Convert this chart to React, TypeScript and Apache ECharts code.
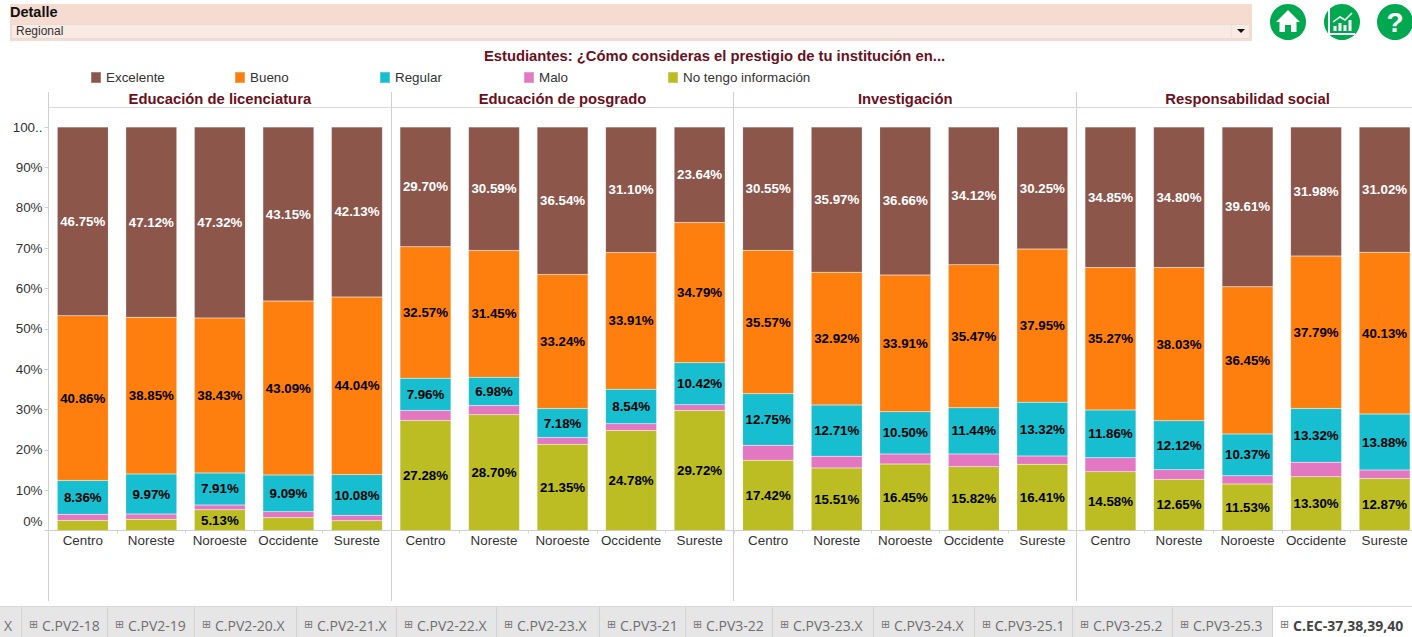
import React, { useEffect, useRef } from "react";
import * as echarts from "echarts";

const regions = ["Centro", "Noreste", "Noroeste", "Occidente", "Sureste"];
const panels = ["Educación de licenciatura", "Educación de posgrado", "Investigación", "Responsabilidad social"];
const noInfo = [
  [2.5, 2.8, 5.13, 3.2, 2.4],
  [27.28, 28.7, 21.35, 24.78, 29.72],
  [17.42, 15.51, 16.45, 15.82, 16.41],
  [14.58, 12.65, 11.53, 13.3, 12.87],
];
const malo = [
  [1.53, 1.26, 1.21, 1.47, 1.35],
  [2.49, 2.28, 1.69, 1.67, 1.43],
  [3.71, 2.89, 2.48, 3.15, 2.07],
  [3.44, 2.4, 2.04, 3.61, 2.1],
];
const regular = [
  [8.36, 9.97, 7.91, 9.09, 10.08],
  [7.96, 6.98, 7.18, 8.54, 10.42],
  [12.75, 12.71, 10.5, 11.44, 13.32],
  [11.86, 12.12, 10.37, 13.32, 13.88],
];
const bueno = [
  [40.86, 38.85, 38.43, 43.09, 44.04],
  [32.57, 31.45, 33.24, 33.91, 34.79],
  [35.57, 32.92, 33.91, 35.47, 37.95],
  [35.27, 38.03, 36.45, 37.79, 40.13],
];
const excelente = [
  [46.75, 47.12, 47.32, 43.15, 42.13],
  [29.7, 30.59, 36.54, 31.1, 23.64],
  [30.55, 35.97, 36.66, 34.12, 30.25],
  [34.85, 34.8, 39.61, 31.98, 31.02],
];
const tabNames = ["C.PV2-18", "C.PV2-19", "C.PV2-20.X", "C.PV2-21.X", "C.PV2-22.X", "C.PV2-23.X", "C.PV3-21", "C.PV3-22", "C.PV3-23.X", "C.PV3-24.X", "C.PV3-25.1", "C.PV3-25.2", "C.PV3-25.3", "C.EC-37,38,39,40"];

const tabEdges = [22, 108, 195, 297, 397, 497, 600, 686, 773, 874, 975, 1073, 1173, 1273];
const FONT = "Liberation Sans";
const DARK = "#6b1020";
const GREEN = "#00a94f";
const panelLeft = [48.5, 391.2, 733.9, 1076.2];
const panelWidth = 342.7;

const stackDefs = [
  { name: "No tengo información", data: noInfo, color: "#bcbd22", text: "#000", labelled: true },
  { name: "Malo", data: malo, color: "#e377c2", text: "#000", labelled: false },
  { name: "Regular", data: regular, color: "#17becf", text: "#000", labelled: true },
  { name: "Bueno", data: bueno, color: "#ff7f0e", text: "#000", labelled: true },
  { name: "Excelente", data: excelente, color: "#8c564b", text: "#fff", labelled: true },
];
const legendDefs = [
  { name: "Excelente", left: 90 },
  { name: "Bueno", left: 234 },
  { name: "Regular", left: 379 },
  { name: "Malo", left: 523 },
  { name: "No tengo información", left: 667 },
];

function chartGraphics(): any[] {
  const g: any[] = [];
  // filter band
  g.push({ type: "rect", shape: { x: 10, y: 4, width: 1242, height: 37 }, style: { fill: "#f6dbd0" } });
  g.push({ type: "rect", shape: { x: 11.5, y: 24.5, width: 1238, height: 14, r: 1 }, style: { fill: "#f9ebe4", stroke: "#e6dcd6", lineWidth: 1 } });
  g.push({ type: "line", shape: { x1: 1231.5, y1: 25, x2: 1231.5, y2: 38 }, style: { stroke: "#ece2dc", lineWidth: 1 } });
  g.push({ type: "polygon", shape: { points: [[1237, 29], [1245, 29], [1241, 33]] }, style: { fill: "#111" } });
  g.push({ type: "text", x: 10, y: 4, style: { text: "Detalle", font: `bold 14.5px "${FONT}"`, fill: "#111" } });
  g.push({ type: "text", x: 16, y: 25, style: { text: "Regional", font: `12px "${FONT}"`, fill: "#333" } });

  // round buttons
  [1288, 1342, 1395].forEach((cx) => {
    g.push({ type: "circle", shape: { cx, cy: 22, r: 18 }, style: { fill: GREEN } });
  });
  g.push({ type: "polygon", shape: { points: [[1288, 10], [1300, 22], [1296.5, 22], [1296.5, 32], [1291, 32], [1291, 25], [1285, 25], [1285, 32], [1279.5, 32], [1279.5, 22], [1276, 22]] }, style: { fill: "#fff" } });
  g.push({ type: "polyline", shape: { points: [[1329, 9], [1329, 34], [1355, 34]] }, style: { stroke: "#fff", lineWidth: 2, fill: "none" } });
  g.push({ type: "polyline", shape: { points: [[1333, 22], [1340, 17], [1345, 20], [1352, 13]] }, style: { stroke: "#fff", lineWidth: 1.5, fill: "none" } });
  [[1335, 26], [1340, 23], [1345, 25], [1350, 20]].forEach(([x, y]) => {
    g.push({ type: "rect", shape: { x: x - 1.5, y, width: 3, height: 31 - y }, style: { fill: "#fff" } });
  });
  g.push({ type: "text", x: 1395, y: 22, style: { text: "?", font: `bold 28px "${FONT}"`, fill: "#fff", align: "center", verticalAlign: "middle" } });

  // panel frame
  panelLeft.forEach((x) => {
    g.push({ type: "line", shape: { x1: Math.floor(x) + 0.5, y1: 92, x2: Math.floor(x) + 0.5, y2: 601 }, style: { stroke: "#cfcfcf", lineWidth: 1 } });
  });
  g.push({ type: "line", shape: { x1: 48, y1: 107.5, x2: 1412, y2: 107.5 }, style: { stroke: "#d8d8d8", lineWidth: 1 } });

  // tab strip
  g.push({ type: "rect", shape: { x: 0, y: 607, width: 1412, height: 30 }, style: { fill: "#e6e6e6" } });
  g.push({ type: "line", shape: { x1: 0, y1: 606.5, x2: 1412, y2: 606.5 }, style: { stroke: "#d9d9d9", lineWidth: 1 } });
  g.push({ type: "rect", shape: { x: 1273, y: 607, width: 139, height: 30 }, style: { fill: "#fff" } });
  g.push({ type: "text", x: 4, y: 625, style: { text: "X", font: '14px "Open Sans"', fill: "#6e6e6e", verticalAlign: "middle" } });
  tabNames.forEach((name, i) => {
    const x = tabEdges[i];
    const active = i === tabNames.length - 1;
    g.push({ type: "line", shape: { x1: x - 0.5, y1: 607, x2: x - 0.5, y2: 637 }, style: { stroke: "#d2d2d2", lineWidth: 1 } });
    g.push({ type: "text", x: x + 7, y: 624.5, style: { text: "⊞", font: '11px "DejaVu Sans"', fill: "#777", verticalAlign: "middle" } });
    g.push({ type: "text", x: x + 20, y: 625, style: { text: name, font: `${active ? "bold " : ""}14px "Open Sans"`, fill: active ? "#444" : "#6e6e6e", verticalAlign: "middle" } });
  });
  return g;
}

function buildOption(): any {
  const grid = panelLeft.map((left) => ({ left, width: panelWidth, top: 127, height: 403.5, containLabel: false, outerBoundsMode: "none" }));
  const xAxis = panelLeft.map((_, i) => ({
    type: "category",
    gridIndex: i,
    data: regions,
    axisLine: { lineStyle: { color: "#cfcfcf" } },
    axisTick: { show: true, length: 3, lineStyle: { color: "#d8d8d8" } },
    axisLabel: { color: "#333", fontFamily: FONT, fontSize: 13.4, margin: 3, interval: 0 },
  }));
  const yAxis = panelLeft.map((_, i) => ({
    type: "value",
    gridIndex: i,
    min: 0,
    max: 100,
    interval: 10,
    splitLine: { show: false },
    axisLine: { show: false },
    axisTick: { show: i === 0, length: 4, lineStyle: { color: "#cfcfcf" } },
    axisLabel: {
      show: i === 0,
      color: "#333",
      fontFamily: FONT,
      fontSize: 13.4,
      margin: 6,
      formatter: (v: number) => (v === 100 ? "100.." : v === 0 ? "{low|0%}" : `${v}%`),
      rich: { low: { color: "#333", fontFamily: FONT, fontSize: 13.4, padding: [0, 0, 18, 0] } },
    },
  }));
  const series: any[] = [];
  panels.forEach((_, p) => {
    stackDefs.forEach((def) => {
      series.push({
        type: "bar",
        name: def.name,
        xAxisIndex: p,
        yAxisIndex: p,
        stack: `panel${p}`,
        barWidth: 51,
        itemStyle: { color: def.color, borderColor: "rgba(255,255,255,0.25)", borderWidth: 0.5 },
        label: {
          show: def.labelled,
          position: "inside",
          color: def.text,
          fontFamily: FONT,
          fontWeight: "bold",
          fontSize: 13.3,
          formatter: (o: any) => (o.value >= 5 ? `${o.value.toFixed(2)}%` : ""),
        },
        data: def.data[p],
      });
    });
  });
  return {
    animation: false,
    backgroundColor: "#fff",
    textStyle: { fontFamily: FONT },
    title: [
      {
        text: "Estudiantes: ¿Cómo consideras el prestigio de tu institución en...",
        left: 714.5,
        top: 48,
        textAlign: "center",
        padding: 0,
        textStyle: { color: DARK, fontFamily: FONT, fontWeight: "bold", fontSize: 14.8 },
      },
      ...panels.map((text, i) => ({
        text,
        left: panelLeft[i] + panelWidth / 2,
        top: 91.5,
        textAlign: "center",
        padding: 0,
        textStyle: { color: DARK, fontFamily: FONT, fontWeight: "bold", fontSize: 14.8 },
      })),
    ],
    legend: legendDefs.map((l) => ({
      data: [l.name],
      left: l.left,
      top: 71,
      padding: 0,
      icon: "rect",
      itemWidth: 10,
      itemHeight: 11,
      selectedMode: false,
      textStyle: { color: "#333", fontFamily: FONT, fontSize: 13.4 },
    })),
    grid,
    xAxis,
    yAxis,
    series,
    graphic: { elements: chartGraphics() },
  };
}

export default function App() {
  const ref = useRef<HTMLDivElement>(null);
  useEffect(() => {
    document.body.style.margin = "0";
    const chart = echarts.init(ref.current!, null, { renderer: "svg" });
    chart.setOption(buildOption());
    return () => chart.dispose();
  }, []);
  return <div ref={ref} style={{ width: 1412, height: 637 }} />;
}
